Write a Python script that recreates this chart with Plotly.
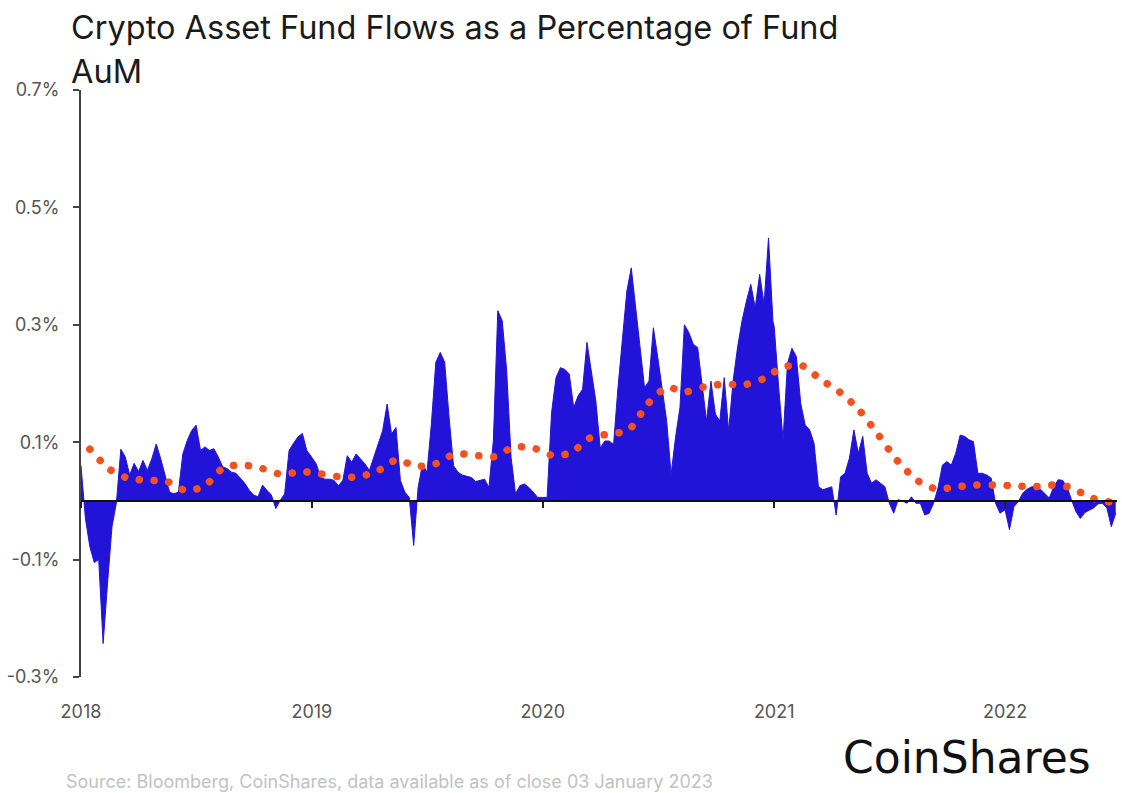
import pandas as pd
import plotly.graph_objects as go

# weekly fund flows as % of AuM, one list per year
flows_2018 = [0.06, -0.03, -0.078, -0.105, -0.10, -0.243, -0.14, -0.044, -0.003, 0.088,
              0.075, 0.044, 0.064, 0.05, 0.069, 0.052, 0.072, 0.097, 0.072, 0.041,
              0.015, 0.012, 0.015, 0.08, 0.103, 0.12, 0.129, 0.086, 0.092, 0.086,
              0.089, 0.075, 0.058, 0.055, 0.049, 0.047, 0.038, 0.03, 0.018, 0.01,
              0.007, 0.027, 0.018, 0.01, -0.013, 0.001, 0.012, 0.086, 0.098, 0.109,
              0.115, 0.086]
flows_2019 = [0.074, 0.063, 0.04, 0.037, 0.037, 0.035, 0.026, 0.035, 0.077, 0.066,
              0.08, 0.071, 0.063, 0.052, 0.074, 0.097, 0.12, 0.165, 0.114, 0.125,
              0.035, 0.015, 0.006, -0.076, 0.023, 0.063, 0.049, 0.131, 0.236, 0.253,
              0.236, 0.142, 0.06, 0.049, 0.044, 0.042, 0.04, 0.033, 0.035, 0.037,
              0.023, 0.103, 0.324, 0.307, 0.222, 0.074, 0.012, 0.026, 0.029, 0.023,
              0.015, 0.006]
flows_2020 = [0.006, 0.006, 0.15, 0.21, 0.227, 0.224, 0.216, 0.159, 0.179, 0.19,
              0.27, 0.216, 0.17, 0.09, 0.102, 0.102, 0.096, 0.193, 0.272, 0.357,
              0.397, 0.329, 0.25, 0.193, 0.204, 0.295, 0.244, 0.187, 0.136, 0.045,
              0.108, 0.159, 0.3, 0.287, 0.267, 0.261, 0.193, 0.136, 0.204, 0.148,
              0.136, 0.21, 0.119, 0.204, 0.261, 0.306, 0.34, 0.369, 0.329, 0.386,
              0.335, 0.448, 0.306]
flows_2021 = [0.297, 0.195, 0.104, 0.234, 0.26, 0.246, 0.166, 0.129, 0.121, 0.098,
              0.024, 0.019, 0.022, 0.024, -0.024, 0.041, 0.047, 0.073, 0.121, 0.081,
              0.11, 0.047, 0.03, 0.036, 0.03, 0.024, -0.004, -0.021, 0.002, 0.0,
              -0.004, 0.007, -0.004, -0.004, -0.024, -0.021, -0.004, 0.022, 0.061, 0.067,
              0.061, 0.081, 0.112, 0.11, 0.104, 0.101, 0.047, 0.047, 0.044, 0.039,
              -0.004, -0.021]
flows_2022 = [-0.015, -0.049, -0.01, -0.001, 0.013, 0.02, 0.024, 0.024, 0.02, 0.013,
              0.005, 0.024, 0.036, 0.035, 0.024, 0.002, -0.018, -0.03, -0.02, -0.016,
              -0.012, -0.005, -0.004, -0.012, -0.044, -0.021]

# smoothed trend (dotted line), mid-month values
trend = [0.088, 0.054, 0.039, 0.035, 0.034, 0.018, 0.025, 0.057, 0.061, 0.055, 0.045, 0.05,
         0.046, 0.041, 0.041, 0.051, 0.07, 0.059, 0.063, 0.08, 0.078, 0.075, 0.091, 0.091,
         0.078, 0.082, 0.107, 0.114, 0.12, 0.165, 0.193, 0.186, 0.195, 0.199, 0.198, 0.208,
         0.228, 0.23, 0.207, 0.185, 0.155, 0.112, 0.068, 0.035, 0.02, 0.024, 0.027, 0.027,
         0.026, 0.024, 0.027, 0.023, 0.006, -0.002]

years = ["2018", "2019", "2020", "2021", "2022"]
y_ticks = [-0.3, -0.1, 0.1, 0.3, 0.5, 0.7]
y_labels = ["-0.3%", "-0.1%", "0.1%", "0.3%", "0.5%", "0.7%"]

title_lines = ["Crypto Asset Fund Flows as a Percentage of Fund", "AuM"]
source = "Source: Bloomberg, CoinShares, data available as of close 03 January 2023"

flow_df = pd.concat([
    pd.DataFrame({"date": pd.date_range(f"{yr}-01-01", periods=len(v), freq="7D"), "flow": v})
    for yr, v in zip(years, [flows_2018, flows_2019, flows_2020, flows_2021, flows_2022])
], ignore_index=True)
trend_dates = pd.date_range("2018-01-01", periods=len(trend), freq="MS") + pd.Timedelta(days=14)

BLUE = "#2213d8"
ORANGE = "#f4511e"
FONT = "Inter"

W, H = 1122, 793
L, R, T, B = 81, 5, 90, 116
PW, PH = W - L - R, H - T - B


def px_x(x):
    return (x - L) / PW


def px_y(y):
    return (H - B - y) / PH


x_range = ["2018-01-01", "2022-06-27"]
year_ticks = [f"{y}-01-01" for y in years]

fig = go.Figure()
fig.add_trace(go.Scatter(x=flow_df["date"], y=flow_df["flow"], mode="lines",
                         fill="tozeroy", fillcolor=BLUE,
                         line=dict(color=BLUE, width=1), hoverinfo="skip"))
fig.add_trace(go.Scatter(x=trend_dates, y=trend, mode="lines", xaxis="x2",
                         line=dict(color=ORANGE, width=7.5, dash="0.1px,14.9px",
                                   shape="spline", smoothing=0.7),
                         hoverinfo="skip"))

fig.update_layout(
    width=W, height=H, margin=dict(l=L, r=R, t=T, b=B),
    paper_bgcolor="white", plot_bgcolor="white", showlegend=False,
    font=dict(family=FONT, color="#555555", size=18),
    xaxis=dict(type="date", range=x_range, tickvals=year_ticks, ticktext=years,
               showgrid=False, zeroline=False, showline=False, ticks="",
               automargin=False,
               ticklabelstandoff=22, tickfont=dict(size=18, color="#555555")),
    xaxis2=dict(type="date", range=x_range, overlaying="x", anchor="free",
                position=px_y(501), tickvals=year_ticks, showticklabels=False,
                showgrid=False, zeroline=False, showline=True, automargin=False,
                linecolor="#111111", linewidth=2,
                ticks="outside", ticklen=6, tickwidth=2, tickcolor="#222222"),
    yaxis=dict(range=[-0.3, 0.7], tickvals=y_ticks, ticktext=y_labels,
               showgrid=False, zeroline=False, showline=True, automargin=False,
               linecolor="#444444", linewidth=2, ticks="outside", ticklen=6,
               tickwidth=1.5, tickcolor="#444444", ticklabelstandoff=10,
               tickfont=dict(size=18, color="#555555")),
)

fig.add_annotation(text=title_lines[0], xref="paper", yref="paper",
                   x=px_x(69), y=px_y(27), xanchor="left", yanchor="middle",
                   showarrow=False, font=dict(family=FONT, size=32.5, color="#1a1a1a"))
fig.add_annotation(text=title_lines[1], xref="paper", yref="paper",
                   x=px_x(69), y=px_y(72), xanchor="left", yanchor="middle",
                   showarrow=False, font=dict(family=FONT, size=32.5, color="#1a1a1a"))
fig.add_annotation(text=source, xref="paper", yref="paper",
                   x=px_x(64), y=px_y(781), xanchor="left", yanchor="middle",
                   showarrow=False, font=dict(family=FONT, size=18, color="#c2c2c2"))
fig.add_annotation(text="CoinShares", xref="paper", yref="paper",
                   x=px_x(841), y=px_y(757), xanchor="left", yanchor="middle",
                   showarrow=False,
                   font=dict(family="DejaVu Sans", size=44, color="#111111"))

# round dots for the dotted trend line, no page margin
post = ("var s=document.createElement('style');"
        "s.innerHTML='body{margin:0}.scatterlayer .js-line{stroke-linecap:round}';"
        "document.head.appendChild(s);")
fig.write_html("out.html", post_script=post, config={"displayModeBar": False})
